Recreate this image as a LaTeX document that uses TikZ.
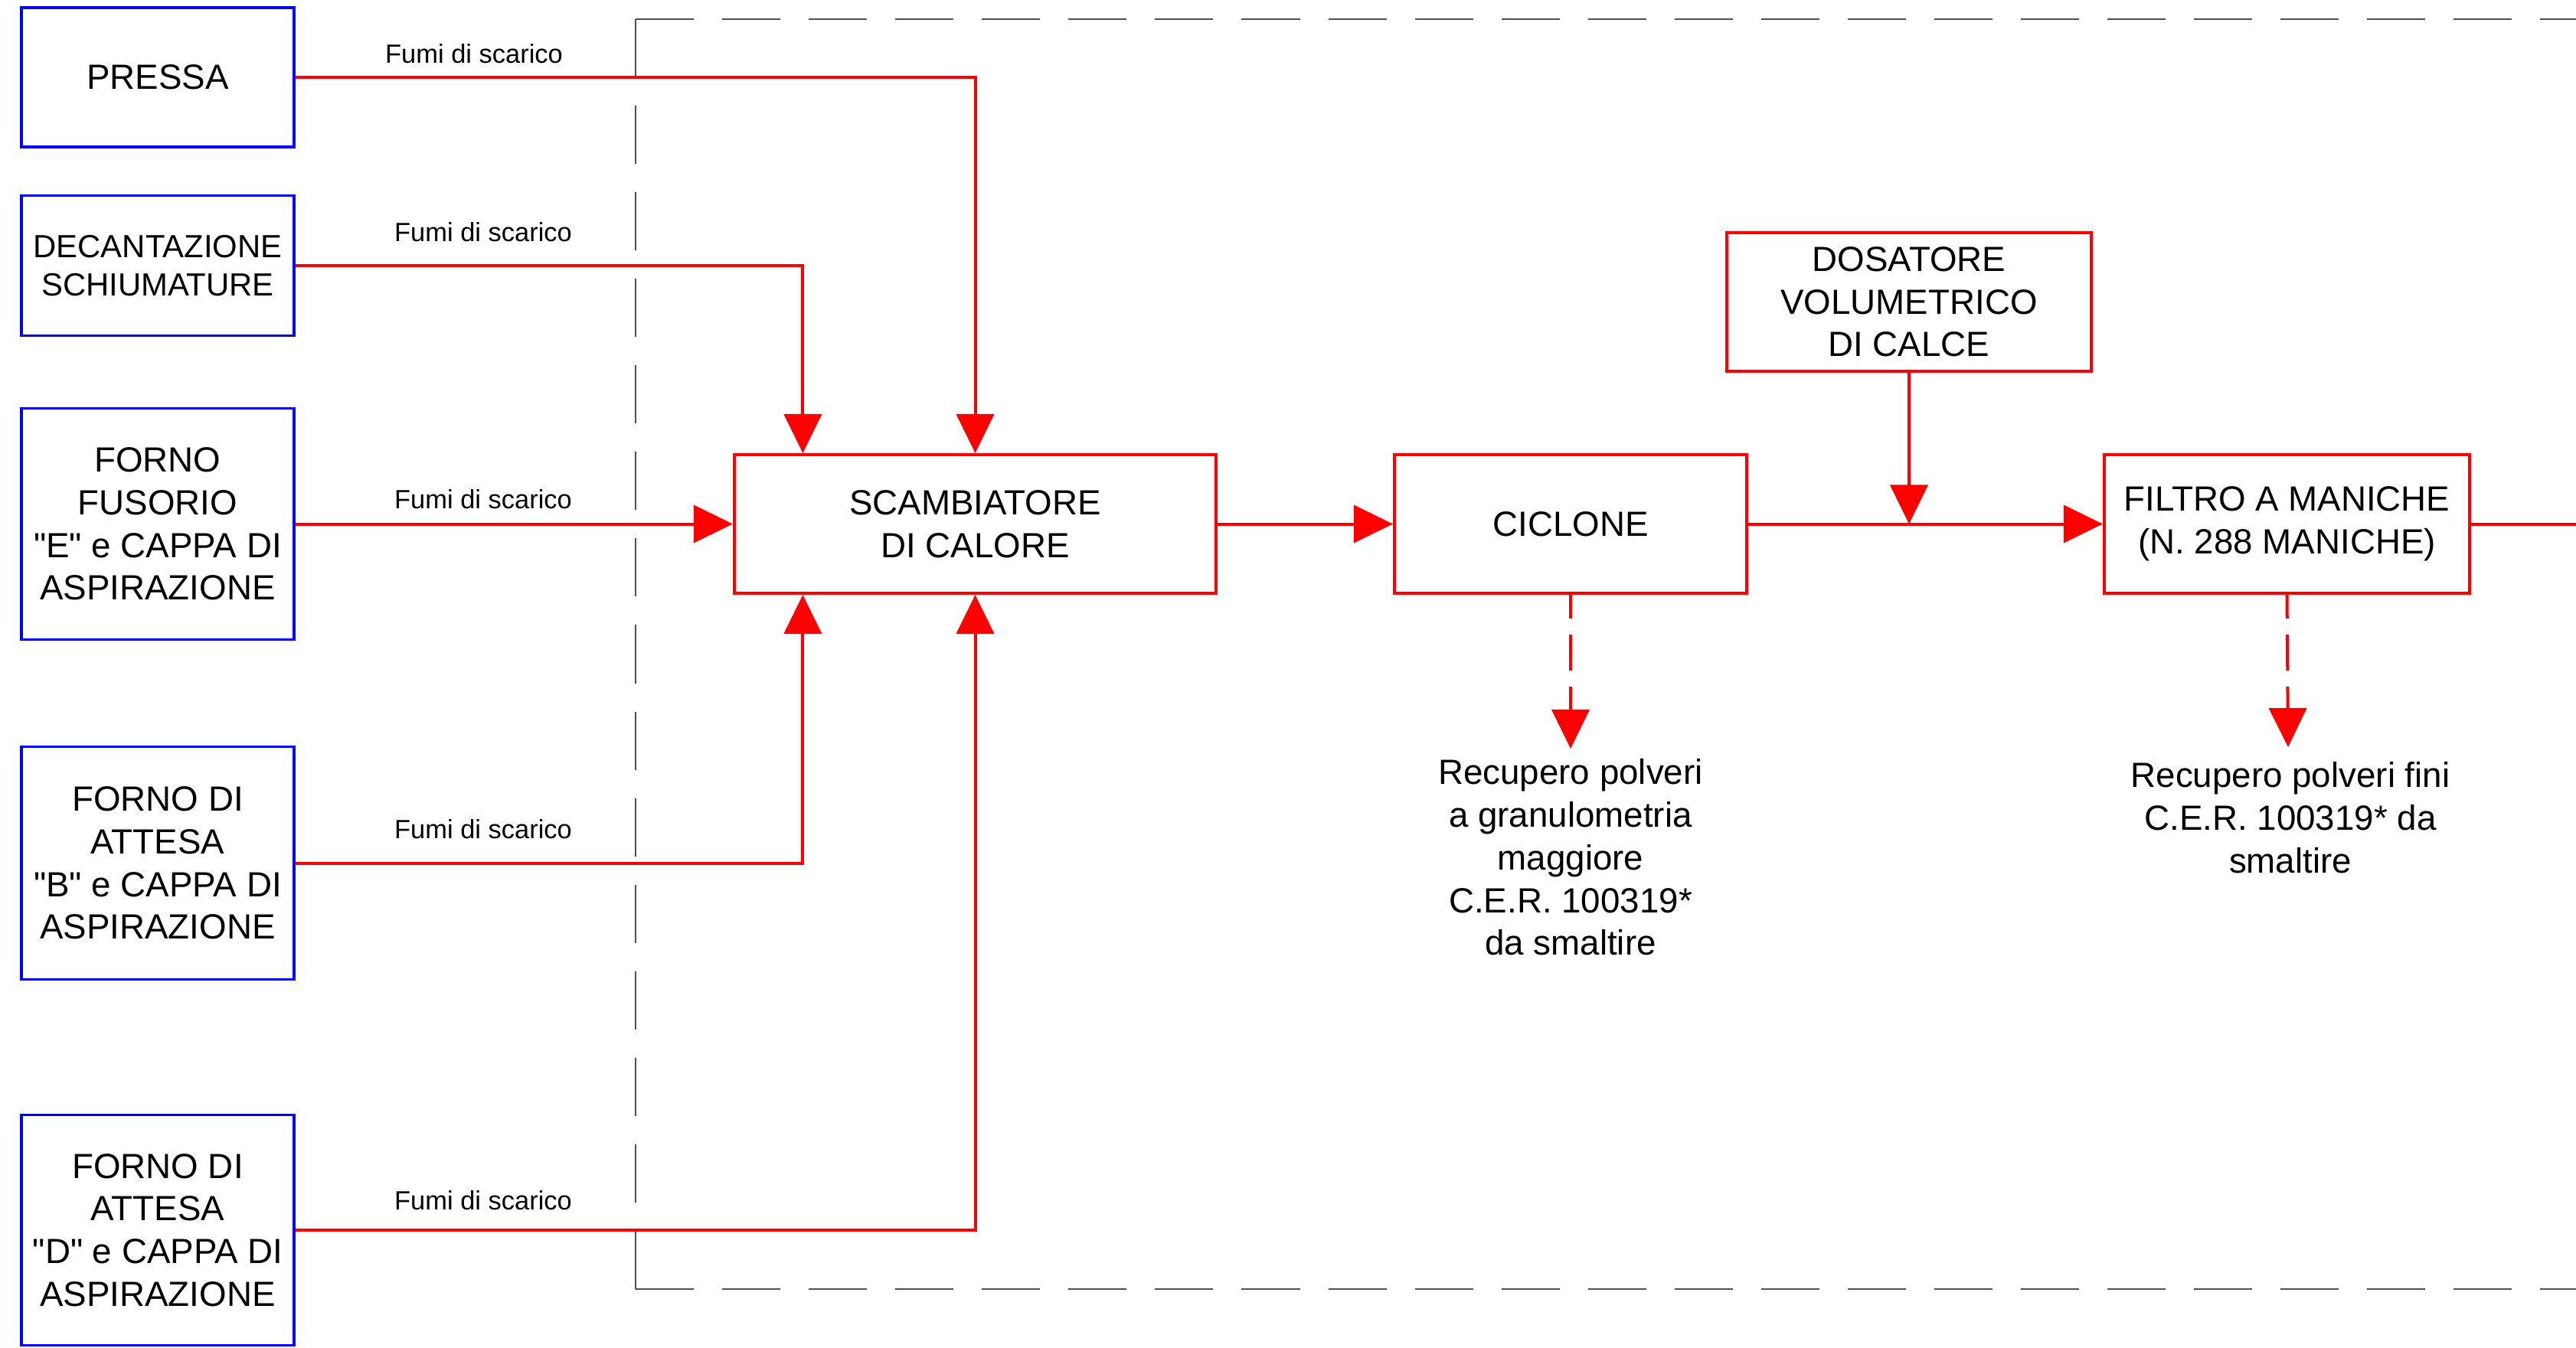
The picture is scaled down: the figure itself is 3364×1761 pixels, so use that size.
\documentclass[tikz,border=0pt]{standalone}
\usepackage{fontspec}
\setmainfont{Liberation Sans}[Ligatures=TeXOff]
\usetikzlibrary{arrows.meta,calc}
\definecolor{fred}{RGB}{255,0,0}
\definecolor{fblue}{RGB}{0,0,255}
\definecolor{fgray}{RGB}{80,80,80}
\begin{document}
\begin{tikzpicture}[x=0.01cm,y=-0.01cm,
  boxfont/.style={font=\fontsize{13}{15.85}\selectfont},
  srcbox/.style={draw=fblue,line width=0.035cm,minimum width=3.56cm,align=center,inner sep=0pt,boxfont},
  procbox/.style={draw=fred,line width=0.04cm,align=center,inner sep=0pt,boxfont},
  flow/.style={draw=fred,line width=0.04cm,-{Triangle[length=0.51cm,width=0.49cm]}},
  plainflow/.style={draw=fred,line width=0.04cm},
  dustflow/.style={draw=fred,line width=0.04cm,dash pattern=on 0.47cm off 0.21cm,dash phase=0.16cm,-{Triangle[length=0.51cm,width=0.49cm]}},
  fumi/.style={font=\fontsize{9.8}{12}\selectfont,inner sep=0pt},
  note/.style={align=center,inner sep=0pt,boxfont},
  border/.style={draw=fgray,line width=0.02cm,dash pattern=on 0.76cm off 0.37cm}]
\useasboundingbox (0,0) rectangle (3364,1761);

% dashed boundary
\coordinate (bTL) at (830,25);
\coordinate (bTR) at (3364,25);
\coordinate (bBL) at (830,1684);
\coordinate (bBR) at (3364,1684);
\draw[border] (bTL) -- (bTR);
\draw[border] (bTL) -- (bBL);
\draw[border] (bBL) -- (bBR);

% source boxes
\node[srcbox,minimum height=1.82cm] (pressa) at (206,101) {PRESSA};
\node[srcbox,minimum height=1.83cm,font=\fontsize{11.9}{14.3}\selectfont] (decant) at (206,347) {DECANTAZIONE\\SCHIUMATURE};
\node[srcbox,minimum height=3.02cm] (fusorio) at (206,684.5) {FORNO\\FUSORIO\\"E" e CAPPA DI\\ASPIRAZIONE};
\node[srcbox,minimum height=3.04cm] (fornoB) at (206,1127.5) {FORNO DI\\ATTESA\\"B" e CAPPA DI\\ASPIRAZIONE};
\node[srcbox,minimum height=3.01cm] (fornoD) at (206,1607) {FORNO DI\\ATTESA\\"D" e CAPPA DI\\ASPIRAZIONE};

% process boxes
\node[procbox,minimum width=6.29cm,minimum height=1.81cm] (scamb) at (1273.5,684.5) {SCAMBIATORE\\DI CALORE};
\node[procbox,minimum width=4.6cm,minimum height=1.81cm] (ciclone) at (2051,684.5) {CICLONE};
\node[procbox,minimum width=4.76cm,minimum height=1.81cm] (dos) at (2493,394.5) {DOSATORE\\VOLUMETRICO\\DI CALCE};
\node[procbox,minimum width=4.77cm,minimum height=1.81cm] (filtro) at (2986.5,684.5) {FILTRO A MANICHE\\(N. 288 MANICHE)};

% labels
\node[fumi] (l1) at (619,70) {Fumi di scarico};
\node[fumi] (l2) at (631,303) {Fumi di scarico};
\node[fumi] (l3) at (631,652) {Fumi di scarico};
\node[fumi] (l4) at (631,1083) {Fumi di scarico};
\node[fumi] (l5) at (631,1568) {Fumi di scarico};

% connectors into scambiatore
\draw[flow] (pressa.east) -| (scamb.north);
\draw[flow] (decant.east) -| ([xshift=-2.25cm]scamb.north);
\draw[flow] (fusorio.east) -- (scamb.west);
\draw[flow] (fornoB.east) -| ([xshift=-2.25cm]scamb.south);
\draw[flow] (fornoD.east) -| (scamb.south);

% main line
\draw[flow] (scamb.east) -- (ciclone.west);
\draw[flow] (ciclone.east) -- (filtro.west);
\coordinate (join) at (dos.south |- ciclone.east);
\draw[flow] (dos.south) -- (join);
\coordinate (outend) at (3364,684.5);
\draw[plainflow] (filtro.east) -- (outend);

% dust outputs
\node[note] (rec1) at (2051,1120) {Recupero polveri\\a granulometria\\maggiore\\C.E.R. 100319*\\da smaltire};
\node[note] (rec2) at (2991,1068) {Recupero polveri fini\\C.E.R. 100319* da\\smaltire};
\coordinate (t1) at (2051,978);
\coordinate (t2) at (2988,976);
\draw[dustflow] (ciclone.south) -- (t1);
\draw[dustflow] (filtro.south) -- (t2);
\end{tikzpicture}
\end{document}
